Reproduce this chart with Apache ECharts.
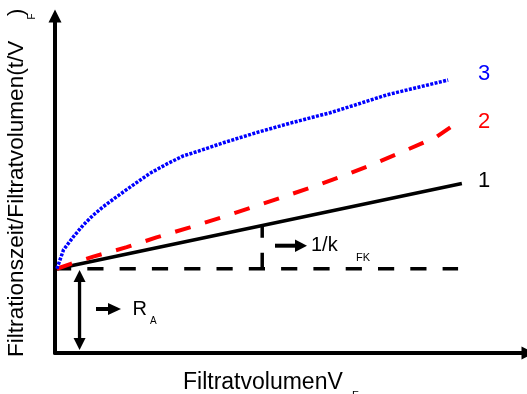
<!DOCTYPE html>
<html>
<head>
<meta charset="utf-8">
<script src="https://cdn.jsdelivr.net/npm/echarts@6/dist/echarts.min.js"></script>
<style>
  html, body { margin: 0; padding: 0; background: #fff; }
  #chart { width: 527px; height: 394px; }
</style>
</head>
<body>
<div id="chart"></div>
<script>
// Filtration diagram: t/V_F against filtrate volume V_F (arbitrary units)

// Curve 1: ideal cake filtration, straight line from the R_A intercept
const curve1 = [[0.04, 2.5], [8.62, 5.03]];
// Curve 2: rising slope (compressible cake)
const curve2 = [
  [0.04, 2.5], [0.32, 2.64], [0.81, 2.86], [1.52, 3.14], [2.15, 3.43],
  [2.86, 3.73], [3.50, 4.01], [4.13, 4.30], [4.77, 4.60], [5.54, 4.97],
  [6.21, 5.31], [6.84, 5.66], [7.46, 6.03], [8.09, 6.42], [8.40, 6.72]
];
// Curve 3: steep start, flattening out
const curve3 = [
  [0.04, 2.5], [0.18, 3.06], [0.39, 3.45], [0.60, 3.80], [0.81, 4.09],
  [1.02, 4.34], [1.31, 4.64], [1.66, 4.99], [2.01, 5.33], [2.37, 5.61],
  [2.72, 5.85], [3.04, 5.99], [3.57, 6.24], [4.27, 6.54], [4.98, 6.82],
  [5.83, 7.13], [6.36, 7.36], [7.03, 7.66], [8.33, 8.10]
];
// Intercept level R_A and the slope marker 1/k_FK
const interceptLine = [[0, 2.5], [8.54, 2.5]];
const slopeMarker = [[4.39, 2.5], [4.39, 3.78]];
const interceptArrow = [[0.52, 0.09], [0.52, 2.46]];

const curveNames = ['1', '2', '3'];
const xTitle = 'FiltratvolumenV';
const yTitle = 'Filtrationszeit/Filtratvolumen(t/V';

const FONT = '"Liberation Sans", Arial, Helvetica, sans-serif';
const chart = echarts.init(document.getElementById('chart'), null, { renderer: 'canvas' });

function axis(endOffset) {
  return {
    type: 'value', min: 0, max: 10,
    axisLine: {
      show: true, onZero: false,
      symbol: ['none', 'triangle'], symbolSize: [13, 13], symbolOffset: [0, endOffset],
      lineStyle: { color: '#000', width: 4 }
    },
    axisTick: { show: false }, axisLabel: { show: false }, splitLine: { show: false }
  };
}

function lineSeries(data, color, width, type) {
  return {
    type: 'line', data: data, symbol: 'none', silent: true, animation: false,
    lineStyle: { color: color, width: width, type: type, cap: 'butt' }
  };
}

chart.setOption({
  animation: false,
  grid: { left: 55, right: 0, top: 16, bottom: 41 },
  xAxis: axis(1),
  yAxis: axis(0),
  series: [
    lineSeries(interceptLine, '#000', 3.5, [16.2, 16.1]),
    lineSeries(slopeMarker, '#000', 3.5, [16, 15]),
    lineSeries(curve1, '#000', 3.5, 'solid'),
    lineSeries(curve2, '#ff0000', 4, [16, 15]),
    lineSeries(curve3, '#0000ff', 3.5, [3, 1.4])
  ]
});

const px = p => chart.convertToPixel({ gridIndex: 0 }, p);

function rightArrow(x0, x1, y, headLen, headH, shaftW) {
  return [
    { type: 'rect', shape: { x: x0, y: y - shaftW / 2, width: x1 - x0 - headLen + 1, height: shaftW }, style: { fill: '#000' } },
    { type: 'polygon', shape: { points: [[x1 - headLen, y - headH / 2], [x1, y], [x1 - headLen, y + headH / 2]] }, style: { fill: '#000' } }
  ];
}

function text(str, x, y, size, color, align, rot) {
  return {
    type: 'text', x: x, y: y, rotation: rot || 0, silent: true,
    style: { text: str, font: size + 'px ' + FONT, fill: color, align: align || 'left', verticalAlign: 'middle' }
  };
}

// double-headed arrow marking the intercept R_A
const aTop = px(interceptArrow[1]);
const aBot = px(interceptArrow[0]);
const ax = aTop[0];
const head = 12, headW = 12;

const graphics = [
  { type: 'rect', shape: { x: ax - 1.65, y: aTop[1] + head - 1, width: 3.3, height: aBot[1] - aTop[1] - 2 * head + 2 }, style: { fill: '#000' } },
  { type: 'polygon', shape: { points: [[ax, aTop[1]], [ax - headW / 2, aTop[1] + head], [ax + headW / 2, aTop[1] + head]] }, style: { fill: '#000' } },
  { type: 'polygon', shape: { points: [[ax, aBot[1]], [ax - headW / 2, aBot[1] - head], [ax + headW / 2, aBot[1] - head]] }, style: { fill: '#000' } }
]
  .concat(rightArrow(96, 121, 309, 13, 12, 4))
  .concat(rightArrow(275, 307, 245.7, 12, 12.5, 4))
  .concat([
    text('R', 132.5, 309, 20, '#000'),
    text('A', 150, 321, 10, '#000'),
    text('1/k', 311, 245.5, 20, '#000'),
    text('FK', 356, 257.5, 11, '#000'),
    text(curveNames[2], 484, 73.5, 22, '#0000ff', 'center'),
    text(curveNames[1], 484, 121.5, 22, '#ff0000', 'center'),
    text(curveNames[0], 484, 180.5, 22, '#000', 'center'),
    text(xTitle, 183, 383, 23, '#000'),
    text('F', 352, 395.5, 11, '#000'),
    text(yTitle, 17, 357, 22.6, '#000', 'left', Math.PI / 2),
    text('F', 32.5, 19.5, 10, '#000', 'left', Math.PI / 2),
    text(')', 17, 16, 22.6, '#000', 'left', Math.PI / 2)
  ]);

chart.setOption({ graphic: graphics });
</script>
</body>
</html>
